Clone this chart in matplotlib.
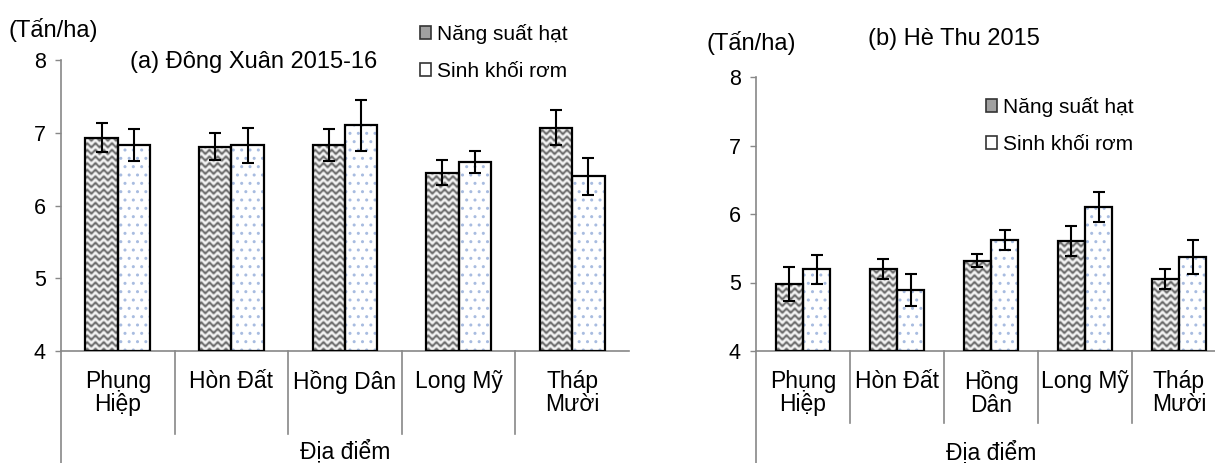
import numpy as np
import matplotlib
matplotlib.use("Agg")
import matplotlib.pyplot as plt
from matplotlib.patches import Patch

plt.rcParams['font.family'] = ['Liberation Sans', 'DejaVu Sans']

sites_a = ["Phụng\nHiệp", "Hòn Đất", "Hồng Dân", "Long Mỹ", "Tháp\nMười"]
sites_b = ["Phụng\nHiệp", "Hòn Đất", "Hồng\nDân", "Long Mỹ", "Tháp\nMười"]
grain_a = [6.93, 6.81, 6.83, 6.45, 7.07]
grain_a_err = [0.20, 0.19, 0.22, 0.17, 0.24]
straw_a = [6.83, 6.83, 7.10, 6.60, 6.40]
straw_a_err = [0.22, 0.24, 0.35, 0.15, 0.25]
grain_b = [4.98, 5.20, 5.32, 5.61, 5.05]
grain_b_err = [0.25, 0.15, 0.10, 0.22, 0.15]
straw_b = [5.19, 4.89, 5.62, 6.10, 5.37]
straw_b_err = [0.21, 0.23, 0.15, 0.22, 0.25]
series_labels = ["Năng suất hạt", "Sinh khối rơm"]
yticks = [4, 5, 6, 7, 8]

W, H = 1215, 463
fig = plt.figure(figsize=(W / 100, H / 100), dpi=100)


def px_axes(x0, x1, ytop, ybot):
    return fig.add_axes([x0 / W, (H - ybot) / H, (x1 - x0) / W, (ybot - ytop) / H])


def wave_fill(ax, bar):
    # wavy gray texture, drawn as an image clipped to the bar
    x0, y0 = bar.get_x(), bar.get_y()
    x1, y1 = x0 + bar.get_width(), y0 + bar.get_height()
    (p0x, p0y), (p1x, p1y) = ax.transData.transform([(x0, y0), (x1, y1)])
    nx, ny = max(int(abs(p1x - p0x)) * 3, 2), max(int(abs(p1y - p0y)) * 3, 2)
    xx, yy = np.meshgrid(np.arange(nx) / 3.0, np.arange(ny) / 3.0)
    phase = (yy - 1.6 * np.sin(2 * np.pi * xx / 8.0)) / 6.6
    c = 0.5 + 0.5 * np.cos(2 * np.pi * phase)
    val = 0.97 - 0.6 * c ** 1.5
    im = ax.imshow(val, extent=(x0, x1, y0, y1), origin='lower', cmap='gray',
                   vmin=0, vmax=1, aspect='auto', interpolation='bilinear', zorder=1)
    im.set_clip_path(bar)


def panel(ax, sites, grain, grain_err, straw, straw_err, w):
    x = np.arange(len(sites))
    ax.set_xlim(-0.5, 4.5)
    ax.set_ylim(4, 8)
    gb = ax.bar(x - w / 2, np.array(grain) - 4, w, bottom=4, facecolor='none',
                edgecolor='black', linewidth=1.6, zorder=3)
    ax.bar(x + w / 2, np.array(straw) - 4, w, bottom=4, facecolor='white',
           edgecolor='#a8bce0', hatch='..', linewidth=0, zorder=1)
    ax.bar(x + w / 2, np.array(straw) - 4, w, bottom=4, facecolor='none',
           edgecolor='black', linewidth=1.6, zorder=3)
    for b in gb:
        wave_fill(ax, b)
    ax.errorbar(x - w / 2, grain, yerr=grain_err, fmt='none', ecolor='black',
                elinewidth=1.5, capsize=4.5, capthick=1.5, zorder=4)
    ax.errorbar(x + w / 2, straw, yerr=straw_err, fmt='none', ecolor='black',
                elinewidth=1.5, capsize=4.5, capthick=1.5, zorder=4)
    ax.set_xlim(-0.5, 4.5)
    ax.set_ylim(4, 8)

    for s in ['top', 'right']:
        ax.spines[s].set_visible(False)
    for s in ['left', 'bottom']:
        ax.spines[s].set_color('#888888')
        ax.spines[s].set_linewidth(1.2)
    ax.set_yticks(yticks)
    ax.tick_params(axis='y', direction='out', length=4, width=1, color='#888888',
                   pad=7, labelsize=15.5)
    ax.set_xticks(x)
    ax.set_xticklabels(sites, fontsize=16.5, linespacing=1.0)
    ax.tick_params(axis='x', length=0, pad=14)
    return x


axa = px_axes(61, 629, 60, 351)
panel(axa, sites_a, grain_a, grain_a_err, straw_a, straw_a_err, 0.286)
axb = px_axes(756, 1226, 77, 351)
panel(axb, sites_b, grain_b, grain_b_err, straw_b, straw_b_err, 0.29)

# category separators and extended axis below the plot
for ax, sep_depth, ax_depth in [(axa, 0.285, 0.40), (axb, 0.263, 0.42)]:
    tr = ax.get_xaxis_transform()
    for b in np.arange(0.5, 4.0, 1.0):
        ax.plot([b, b], [0, -sep_depth], transform=tr, color='#888888', lw=1.2, clip_on=False)
    ax.plot([-0.5, -0.5], [0, -ax_depth], transform=tr, color='#888888', lw=1.2, clip_on=False)

fig.text(345 / W, (H - 452) / H, "Địa điểm", ha='center', va='center', fontsize=16.5)
fig.text(991 / W, (H - 453) / H, "Địa điểm", ha='center', va='center', fontsize=16.5)

fig.text(130 / W, (H - 68) / H, "(a) Đông Xuân 2015-16", ha='left', va='baseline', fontsize=17)
fig.text(868 / W, (H - 45) / H, "(b) Hè Thu 2015", ha='left', va='baseline', fontsize=17)
fig.text(9 / W, (H - 37) / H, "(Tấn/ha)", ha='left', va='baseline', fontsize=17)
fig.text(706 / W, (H - 50) / H, "(Tấn/ha)", ha='left', va='baseline', fontsize=17)

handles = [Patch(facecolor='#a0a0a0', edgecolor='#333333', linewidth=1.2),
           Patch(facecolor='white', edgecolor='#333333', linewidth=1.2)]
for anchor in [(420 / W, (H - 24) / H), (986 / W, (H - 97) / H)]:
    fig.legend(handles, series_labels, loc='upper left', bbox_to_anchor=anchor,
               frameon=False, fontsize=15, handlelength=0.55, handleheight=0.55,
               handletextpad=0.25, labelspacing=0.85, borderpad=0, borderaxespad=0)

fig.savefig("out.png", dpi=100)
